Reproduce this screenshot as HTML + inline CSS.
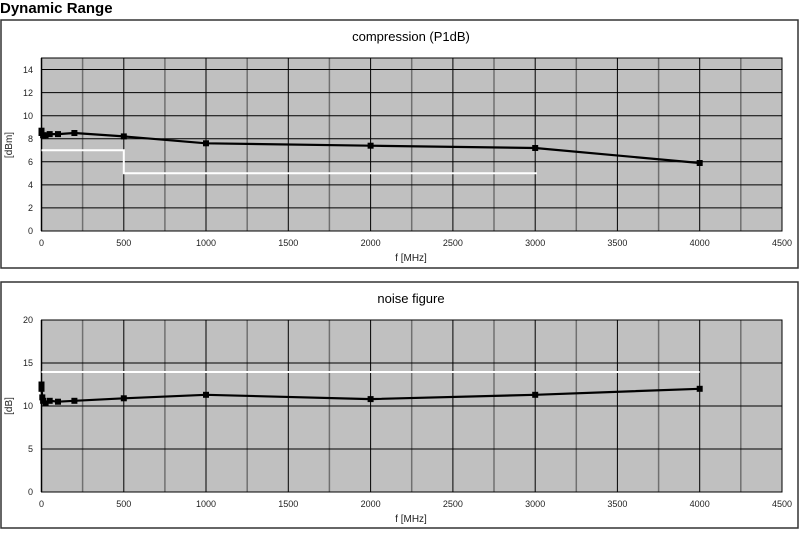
<!DOCTYPE html>
<html><head><meta charset="utf-8"><style>
body{margin:0;background:#fff;width:800px;height:531px;overflow:hidden}
text{font-family:"Liberation Sans",Arial,sans-serif}
</style></head><body>
<svg width="800" height="531" viewBox="0 0 800 531" xmlns="http://www.w3.org/2000/svg">
<text x="0" y="13" font-size="15" font-weight="bold">Dynamic Range</text>
<rect x="1" y="20" width="797" height="248" fill="#fff" stroke="#333" stroke-width="1.5"/>
<rect x="1" y="282" width="797" height="246" fill="#fff" stroke="#333" stroke-width="1.5"/>
<text x="411" y="41" font-size="13" text-anchor="middle">compression (P1dB)</text>
<text x="411" y="303" font-size="13" text-anchor="middle">noise figure</text>

<!-- top plot -->
<rect x="41.5" y="58" width="740.5" height="173" fill="#c0c0c0"/>
<g stroke="#707070" stroke-width="1.5">
<line x1="82.6" y1="58" x2="82.6" y2="231"/><line x1="164.9" y1="58" x2="164.9" y2="231"/><line x1="247.2" y1="58" x2="247.2" y2="231"/><line x1="329.4" y1="58" x2="329.4" y2="231"/><line x1="411.7" y1="58" x2="411.7" y2="231"/><line x1="494" y1="58" x2="494" y2="231"/><line x1="576.3" y1="58" x2="576.3" y2="231"/><line x1="658.6" y1="58" x2="658.6" y2="231"/><line x1="740.8" y1="58" x2="740.8" y2="231"/>
</g>
<g stroke="#000" stroke-width="1">
<line x1="123.8" y1="58" x2="123.8" y2="231"/><line x1="206" y1="58" x2="206" y2="231"/><line x1="288.3" y1="58" x2="288.3" y2="231"/><line x1="370.6" y1="58" x2="370.6" y2="231"/><line x1="452.9" y1="58" x2="452.9" y2="231"/><line x1="535.2" y1="58" x2="535.2" y2="231"/><line x1="617.4" y1="58" x2="617.4" y2="231"/><line x1="699.7" y1="58" x2="699.7" y2="231"/>
<line x1="41.5" y1="207.9" x2="782" y2="207.9"/><line x1="41.5" y1="184.9" x2="782" y2="184.9"/><line x1="41.5" y1="161.8" x2="782" y2="161.8"/><line x1="41.5" y1="138.7" x2="782" y2="138.7"/><line x1="41.5" y1="115.7" x2="782" y2="115.7"/><line x1="41.5" y1="92.6" x2="782" y2="92.6"/><line x1="41.5" y1="69.5" x2="782" y2="69.5"/>
</g>
<rect x="41.5" y="58" width="740.5" height="173" fill="none" stroke="#000" stroke-width="1"/>
<line x1="41.5" y1="58" x2="41.5" y2="231" stroke="#000" stroke-width="1.5"/>
<polyline points="41.5,150.3 123.8,150.3 123.8,173.3 537,173.3" fill="none" stroke="#fff" stroke-width="2"/>
<polyline points="41.5,130.7 41.5,133 43.1,135.3 45.6,135.3 49.7,134.1 58,134.1 74.4,133 123.8,136.4 206,143.3 370.6,145.7 535.2,148 699.7,163" fill="none" stroke="#000" stroke-width="2.2"/>
<g fill="#000">
<rect x="38.5" y="127.7" width="6" height="6"/><rect x="38.5" y="130" width="6" height="6"/><rect x="40.1" y="132.3" width="6" height="6"/><rect x="42.6" y="132.3" width="6" height="6"/><rect x="46.7" y="131.1" width="6" height="6"/><rect x="55" y="131.1" width="6" height="6"/><rect x="71.4" y="130" width="6" height="6"/><rect x="120.8" y="133.4" width="6" height="6"/><rect x="203" y="140.3" width="6" height="6"/><rect x="367.6" y="142.7" width="6" height="6"/><rect x="532.2" y="145" width="6" height="6"/><rect x="696.7" y="160" width="6" height="6"/>
</g>
<g font-size="9" fill="#222" text-anchor="end">
<text x="33" y="234">0</text><text x="33" y="211">2</text><text x="33" y="188">4</text><text x="33" y="165">6</text><text x="33" y="142">8</text><text x="33" y="119">10</text><text x="33" y="96">12</text><text x="33" y="73">14</text>
</g>
<g font-size="9" fill="#222" text-anchor="middle">
<text x="41.5" y="246">0</text><text x="123.8" y="246">500</text><text x="206" y="246">1000</text><text x="288.3" y="246">1500</text><text x="370.6" y="246">2000</text><text x="452.9" y="246">2500</text><text x="535.2" y="246">3000</text><text x="617.4" y="246">3500</text><text x="699.7" y="246">4000</text><text x="782" y="246">4500</text>
<text x="411" y="261" font-size="10">f [MHz]</text>
</g>
<text transform="translate(12,145) rotate(-90)" font-size="10" fill="#222" text-anchor="middle">[dBm]</text>

<!-- bottom plot -->
<rect x="41.5" y="320" width="740.5" height="172" fill="#c0c0c0"/>
<g stroke="#707070" stroke-width="1.5">
<line x1="82.6" y1="320" x2="82.6" y2="492"/><line x1="164.9" y1="320" x2="164.9" y2="492"/><line x1="247.2" y1="320" x2="247.2" y2="492"/><line x1="329.4" y1="320" x2="329.4" y2="492"/><line x1="411.7" y1="320" x2="411.7" y2="492"/><line x1="494" y1="320" x2="494" y2="492"/><line x1="576.3" y1="320" x2="576.3" y2="492"/><line x1="658.6" y1="320" x2="658.6" y2="492"/><line x1="740.8" y1="320" x2="740.8" y2="492"/>
</g>
<g stroke="#000" stroke-width="1">
<line x1="123.8" y1="320" x2="123.8" y2="492"/><line x1="206" y1="320" x2="206" y2="492"/><line x1="288.3" y1="320" x2="288.3" y2="492"/><line x1="370.6" y1="320" x2="370.6" y2="492"/><line x1="452.9" y1="320" x2="452.9" y2="492"/><line x1="535.2" y1="320" x2="535.2" y2="492"/><line x1="617.4" y1="320" x2="617.4" y2="492"/><line x1="699.7" y1="320" x2="699.7" y2="492"/>
<line x1="41.5" y1="449" x2="782" y2="449"/><line x1="41.5" y1="406" x2="782" y2="406"/><line x1="41.5" y1="363" x2="782" y2="363"/>
</g>
<rect x="41.5" y="320" width="740.5" height="172" fill="none" stroke="#000" stroke-width="1"/>
<line x1="41.5" y1="320" x2="41.5" y2="492" stroke="#000" stroke-width="1.5"/>
<line x1="41.5" y1="372" x2="699.7" y2="372" stroke="#fff" stroke-width="2"/>
<polyline points="41.5,384.5 41.5,388.8 42.3,397.4 43.1,400.8 45.6,403.4 49.7,400.8 58,401.7 74.4,400.8 123.8,398.3 206,394.8 370.6,399.1 535.2,394.8 699.7,388.8" fill="none" stroke="#000" stroke-width="2.2"/>
<g fill="#000">
<rect x="38.5" y="381.5" width="6" height="6"/><rect x="38.5" y="385.8" width="6" height="6"/><rect x="39.3" y="394.4" width="6" height="6"/><rect x="40.1" y="397.8" width="6" height="6"/><rect x="42.6" y="400.4" width="6" height="6"/><rect x="46.7" y="397.8" width="6" height="6"/><rect x="55" y="398.7" width="6" height="6"/><rect x="71.4" y="397.8" width="6" height="6"/><rect x="120.8" y="395.3" width="6" height="6"/><rect x="203" y="391.8" width="6" height="6"/><rect x="367.6" y="396.1" width="6" height="6"/><rect x="532.2" y="391.8" width="6" height="6"/><rect x="696.7" y="385.8" width="6" height="6"/>
</g>
<g font-size="9" fill="#222" text-anchor="end">
<text x="33" y="495">0</text><text x="33" y="452">5</text><text x="33" y="409">10</text><text x="33" y="366">15</text><text x="33" y="323">20</text>
</g>
<g font-size="9" fill="#222" text-anchor="middle">
<text x="41.5" y="507">0</text><text x="123.8" y="507">500</text><text x="206" y="507">1000</text><text x="288.3" y="507">1500</text><text x="370.6" y="507">2000</text><text x="452.9" y="507">2500</text><text x="535.2" y="507">3000</text><text x="617.4" y="507">3500</text><text x="699.7" y="507">4000</text><text x="782" y="507">4500</text>
<text x="411" y="522" font-size="10">f [MHz]</text>
</g>
<text transform="translate(12,406) rotate(-90)" font-size="10" fill="#222" text-anchor="middle">[dB]</text>
</svg>
</body></html>
